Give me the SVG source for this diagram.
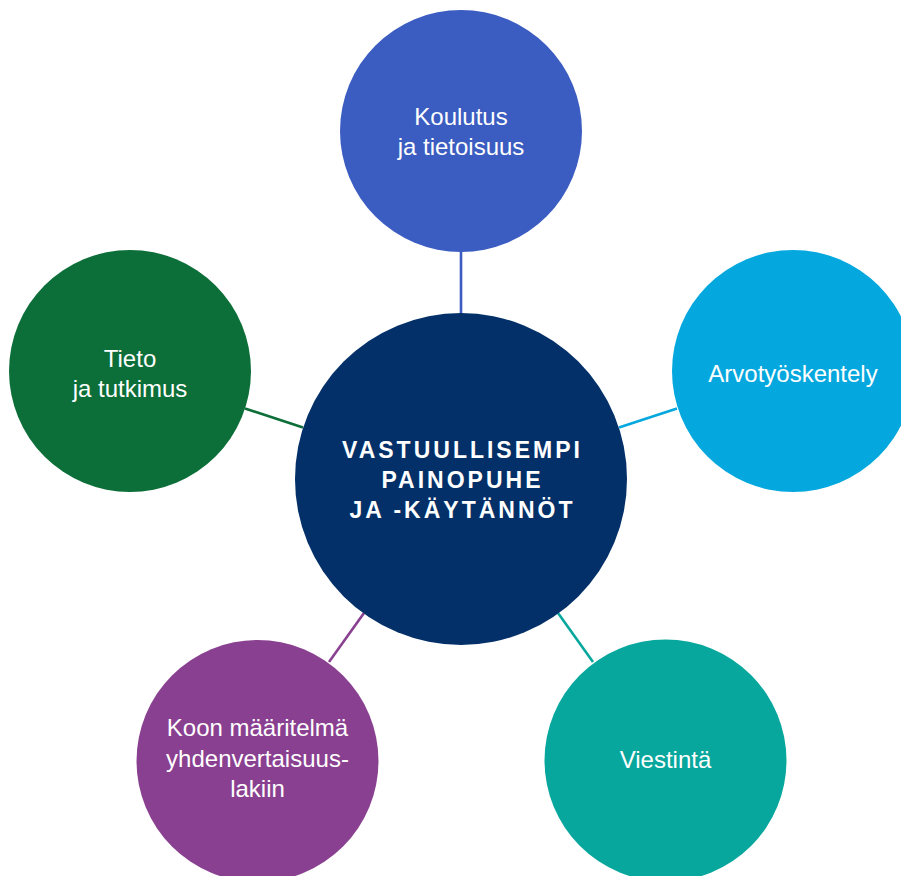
<svg xmlns="http://www.w3.org/2000/svg" width="901" height="876" viewBox="0 0 901 876">
<style>
.lbl{font-family:"Liberation Sans",Arial,sans-serif;font-size:24px;fill:#ffffff;text-anchor:middle}
.hub{font-family:"Liberation Sans",Arial,sans-serif;font-size:23px;font-weight:bold;fill:#ffffff;text-anchor:middle;letter-spacing:3px}
.con{stroke-width:2.6;fill:none}
</style>
<rect width="901" height="876" fill="#ffffff"/>
<g id="connectors">
<line class="con" x1="461" y1="252" x2="461" y2="314" stroke="#3B5CC0"/>
<line class="con" x1="245" y1="408.5" x2="303" y2="427.5" stroke="#0C6E38"/>
<line class="con" x1="619" y1="427.5" x2="677" y2="408.5" stroke="#05A8DE"/>
<line class="con" x1="364" y1="613" x2="329" y2="662" stroke="#8A4090"/>
<line class="con" x1="558" y1="613" x2="593" y2="662" stroke="#07A79D"/>
</g>
<g id="node-center">
<circle cx="461" cy="479" r="166" fill="#033068"/>
<text class="hub" x="462.5" y="458">VASTUULLISEMPI</text>
<text class="hub" x="462.5" y="488">PAINOPUHE</text>
<text class="hub" x="462.5" y="518">JA -KÄYTÄNNÖT</text>
</g>
<g id="node-koulutus">
<circle cx="461" cy="131" r="121" fill="#3B5CC0"/>
<text class="lbl" x="461" y="125">Koulutus</text>
<text class="lbl" x="461" y="155">ja tietoisuus</text>
</g>
<g id="node-tieto">
<circle cx="130" cy="371" r="121" fill="#0C6E38"/>
<text class="lbl" x="130" y="367">Tieto</text>
<text class="lbl" x="130" y="397">ja tutkimus</text>
</g>
<g id="node-arvo">
<circle cx="793" cy="371" r="121" fill="#05A8DE"/>
<text class="lbl" x="793" y="382">Arvotyöskentely</text>
</g>
<g id="node-koko">
<circle cx="257.5" cy="761" r="121" fill="#8A4090"/>
<text class="lbl" x="257.5" y="736">Koon määritelmä</text>
<text class="lbl" x="257.5" y="767">yhdenvertaisuus-</text>
<text class="lbl" x="257.5" y="797">lakiin</text>
</g>
<g id="node-viestinta">
<circle cx="665.5" cy="760.5" r="121" fill="#07A79D"/>
<text class="lbl" x="665.5" y="768">Viestintä</text>
</g>
</svg>
